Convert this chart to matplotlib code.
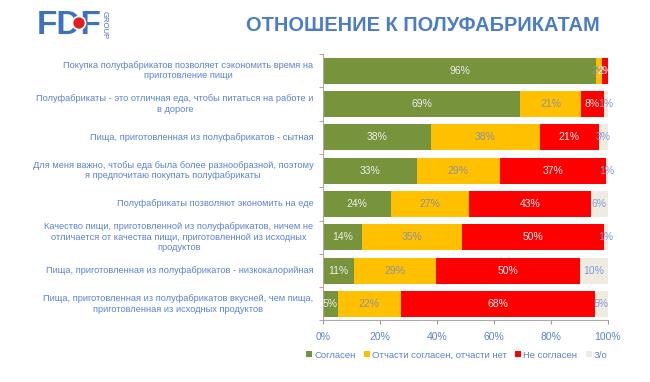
import matplotlib
matplotlib.use("Agg")
import matplotlib.pyplot as plt
from matplotlib.patches import Ellipse
import numpy as np

plt.rcParams['font.family'] = ['Liberation Sans', 'DejaVu Sans']

categories = [
    "Покупка полуфабрикатов позволяет сэкономить время на\nприготовление пищи",
    "Полуфабрикаты - это отличная еда, чтобы питаться на работе и\nв дороге",
    "Пища, приготовленная из полуфабрикатов - сытная",
    "Для меня важно, чтобы еда была более разнообразной, поэтому\nя предпочитаю покупать полуфабрикаты",
    "Полуфабрикаты позволяют экономить на еде",
    "Качество пищи, приготовленной из полуфабрикатов, ничем не\nотличается от качества пищи, приготовленной из исходных\nпродуктов",
    "Пища, приготовленная из полуфабрикатов - низкокалорийная",
    "Пища, приготовленная из полуфабрикатов вкусней, чем пища,\nприготовленная из исходных продуктов",
]
agree = [96.0, 69.3, 37.9, 33.0, 24.0, 13.9, 10.8, 5.3]
partly = [2.1, 21.3, 38.2, 29.2, 27.4, 34.8, 29.0, 22.0]
disagree = [2.1, 8.1, 20.7, 37.1, 42.6, 50.0, 50.4, 68.1]
unknown = [0.0, 1.3, 3.2, 0.7, 6.0, 1.3, 9.8, 4.6]
series_names = ["Согласен", "Отчасти согласен, отчасти нет", "Не согласен", "З/о"]
xtick_labels = ["0%", "20%", "40%", "60%", "80%", "100%"]

colors = ["#77933C", "#FFC000", "#FF0000", "#EEECE1"]
label_colors = ["#EDEDED", "#8A93A6", "#FFF2F2", "#7A9CD8"]
blue = "#5A82D2"

fig = plt.figure(figsize=(6.5, 3.82), dpi=100)
ax = fig.add_axes([0.4965, 0.161, 0.4385, 0.6976])

y = np.arange(len(categories))
left = np.zeros(len(categories))
for vals, col, lcol, name in zip([agree, partly, disagree, unknown], colors, label_colors, series_names):
    vals = np.array(vals)
    ax.barh(y, vals, left=left, height=0.78, color=col, label=name, edgecolor='none')
    for yi, (l, v) in enumerate(zip(left, vals)):
        if v > 0.05:
            ax.text(l + v / 2, yi, f"{round(v)}%", ha='center', va='center',
                    fontsize=7.5, color=lcol)
    left += vals

ax.set_xlim(0, 100)
ax.set_ylim(len(categories) - 0.5, -0.5)
ax.set_xticks(np.arange(0, 101, 20))
ax.set_xticklabels(xtick_labels, color=blue, fontsize=7.5)
ax.set_yticks(y)
ax.set_yticklabels([])
ax.tick_params(axis='y', length=0)
ax.set_yticks(np.arange(-0.5, len(categories), 1), minor=True)
ax.tick_params(axis='y', which='minor', length=3, color='#999999', direction='out')
ax.tick_params(axis='x', length=3, color='#999999', pad=5)
for s in ['top', 'right']:
    ax.spines[s].set_visible(False)
for s in ['left', 'bottom']:
    ax.spines[s].set_color('#AAAAAA')

for yi, cat in enumerate(categories):
    ax.text(-0.032, yi, cat, transform=ax.get_yaxis_transform(), ha='right', va='center',
            multialignment='center', fontsize=6.7, color=blue, linespacing=1.2)

fig.legend(loc='center', bbox_to_anchor=(0.703, 0.07), ncol=4, frameon=False,
           fontsize=6.8, labelcolor=blue, handlelength=0.6, handleheight=0.6,
           handletextpad=0.25, columnspacing=0.9)

# Title
fig.text(0.651, 0.932, "ОТНОШЕНИЕ К ПОЛУФАБРИКАТАМ", ha='center', va='center',
         fontsize=14.4, fontweight='bold', color='#4A7CC8')

# Logo
logo_col = '#3F72BE'
fig.text(37 / 650, 1 - 25 / 382, "FDF", ha='left', va='center', fontsize=24,
         fontweight='bold', color=logo_col, zorder=1)
circ = Ellipse((79 / 650, 1 - 23 / 382), 13 / 650, 13 / 382, transform=fig.transFigure,
               facecolor='#E02020', edgecolor='white', linewidth=1.2, zorder=5)
fig.add_artist(circ)
fig.text(104 / 650, 1 - 25 / 382, "GROUP", ha='center', va='center', fontsize=5.5,
         rotation=-90, color=logo_col)

fig.savefig("out.png", dpi=100, facecolor='white')
